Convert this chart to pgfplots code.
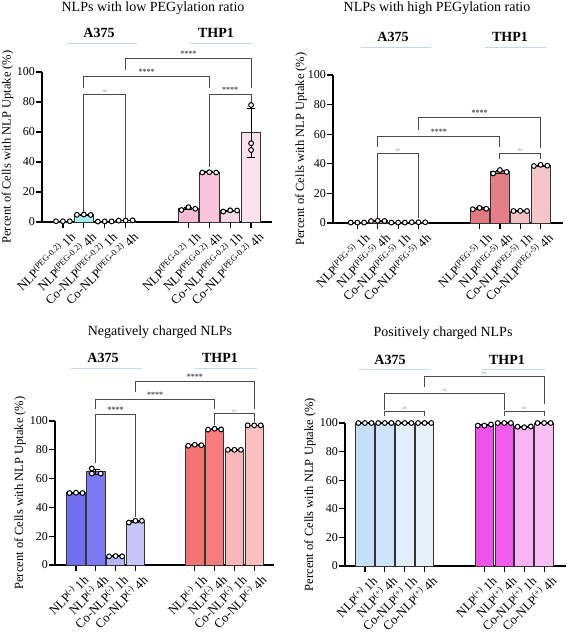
\documentclass[border=0pt]{standalone}
\usepackage{pgfplots}
\pgfplotsset{compat=1.18}
\usepackage{fontspec}
\setmainfont{Liberation Serif}
\newcommand\sps[1]{\textsuperscript{\fontsize{8.6}{9}\selectfont #1}}
\definecolor{brkc}{HTML}{4A4A4A}
\definecolor{uline}{HTML}{C6D6F0}
% panel 1
\definecolor{aA}{HTML}{CFF7F6}\definecolor{aB}{HTML}{A6F0EC}\definecolor{aC}{HTML}{DDF9F8}\definecolor{aD}{HTML}{E6FBFA}
\definecolor{aE}{HTML}{F8BCD6}\definecolor{aF}{HTML}{FAC4DC}\definecolor{aG}{HTML}{FCD5E6}\definecolor{aH}{HTML}{FDE1EE}
% panel 2
\definecolor{bA}{HTML}{E07F88}\definecolor{bB}{HTML}{E3848D}\definecolor{bC}{HTML}{F4C0C4}\definecolor{bD}{HTML}{F5C6C8}
\definecolor{bE}{HTML}{E27882}\definecolor{bF}{HTML}{E57E88}\definecolor{bG}{HTML}{F4C0C4}\definecolor{bH}{HTML}{F5C6C8}
% panel 3
\definecolor{cA}{HTML}{6F6FF0}\definecolor{cB}{HTML}{7A7AF2}\definecolor{cC}{HTML}{B7B7F8}\definecolor{cD}{HTML}{C5C5F9}
\definecolor{cE}{HTML}{F47474}\definecolor{cF}{HTML}{F97C7C}\definecolor{cG}{HTML}{FBB7B7}\definecolor{cH}{HTML}{FCBFBF}
% panel 4
\definecolor{dA}{HTML}{C5DFFA}\definecolor{dB}{HTML}{CCE3FA}\definecolor{dC}{HTML}{E2EEFB}\definecolor{dD}{HTML}{E7F1FC}
\definecolor{dE}{HTML}{EF52EB}\definecolor{dF}{HTML}{F25BEE}\definecolor{dG}{HTML}{F9B4F4}\definecolor{dH}{HTML}{FBBFF7}

\tikzset{
  brk/.style={draw=brkc, line width=0.9pt},
  st/.style={font=\fontsize{8}{8}\selectfont\bfseries, text=brkc, anchor=south, inner sep=1.5pt},
  ns/.style={font=\fontsize{5}{5}\selectfont, text=black!45, anchor=south, inner sep=1.5pt},
}
\pgfplotsset{
  gp/.style={
    scale only axis, ymin=0, ymax=100,
    axis x line*=bottom, axis y line*=left,
    axis line style={line width=1.3pt, -},
    every tick/.style={black, line width=1.2pt},
    major tick length=6pt, tick align=outside,
    ytick={0,20,40,60,80,100},
    xtick={1,2,3,4,7,8,9,10},
    clip=false,
    /pgf/number format/assume math mode=true,
    yticklabel style={font=\fontsize{12}{12}\selectfont, inner sep=1pt},
    xticklabel style={font=\fontsize{12.8}{14}\selectfont, inner sep=1pt, xshift=6pt, yshift=-1pt, rotate=45, anchor=north east},
    ylabel={Percent of Cells with NLP Uptake (\%)},
    bar width=0.93,
  },
  bars/.style={ybar, bar shift=0pt, draw=black!80, line width=0.9pt, fill=#1,
     error bars/.cd, y dir=both, y explicit,
     error bar style={black, line width=0.9pt},
     error mark options={rotate=90, black, line width=0.9pt, mark size=4pt}},
  pts/.style={only marks, mark=*, mark size=2.4pt, mark options={fill=white, draw=black, line width=1pt}},
}

\begin{document}
\begin{tikzpicture}
\useasboundingbox (0,0) rectangle (567pt,-634pt);

%================ Panel 1 =================
\begin{axis}[gp, at={(42pt,-222pt)}, anchor=south west, width=230pt, height=150pt,
  xmin=0, xmax=11,
  ylabel style={at={(axis description cs:-0.15,0.5)}, anchor=center, font=\fontsize{12.5}{13}\selectfont},
  xticklabels={NLP\sps{(PEG-0.2)} 1h, NLP\sps{(PEG-0.2)} 4h, Co-NLP\sps{(PEG-0.2)} 1h, Co-NLP\sps{(PEG-0.2)} 4h,
               NLP\sps{(PEG-0.2)} 1h, NLP\sps{(PEG-0.2)} 4h, Co-NLP\sps{(PEG-0.2)} 1h, Co-NLP\sps{(PEG-0.2)} 4h}]
\addplot[bars=aA] coordinates {(1,0.5) +- (0,0.1)};
\addplot[bars=aB] coordinates {(2,4.8) +- (0,0.3)};
\addplot[bars=aC] coordinates {(3,0.4) +- (0,0.1)};
\addplot[bars=aD] coordinates {(4,1.0) +- (0,0.1)};
\addplot[bars=aE] coordinates {(7,9.0) +- (0,0.9)};
\addplot[bars=aF] coordinates {(8,33.1) +- (0,0.3)};
\addplot[bars=aG] coordinates {(9,7.5) +- (0,0.5)};
\addplot[bars=aH] coordinates {(10,59.5) +- (0,16.5)};
\addplot[pts] coordinates {
 (0.67,0.5)(1,0.5)(1.33,0.5)
 (1.67,4.8)(2,5.0)(2.33,4.7)
 (2.67,0.3)(3,0.4)(3.33,0.4)
 (3.67,0.9)(4,1.0)(4.33,1.1)
 (6.67,8.0)(7,9.9)(7.33,8.8)
 (7.67,33.0)(8,33.2)(8.33,33.0)
 (8.67,7.0)(9,7.8)(9.33,7.7)
 (10,78)(10,52.5)(10,48)};
\draw[brk] (axis cs:4,101.3) |- (axis cs:10,109.3) -- (axis cs:10,89.3);
\node[st] at (axis cs:7,109.3) {****};
\draw[brk] (axis cs:2,89.3) |- (axis cs:8,97.3) -- (axis cs:8,89.3);
\node[st] at (axis cs:5,97.3) {****};
\draw[brk] (axis cs:2,6.7) |- (axis cs:4,85.3) -- (axis cs:4,3);
\node[ns] at (axis cs:3,85.3) {ns};
\draw[brk] (axis cs:8,36.7) |- (axis cs:10,85.3) -- (axis cs:10,79);
\node[st] at (axis cs:9,85.3) {****};
\end{axis}

%================ Panel 2 =================
\begin{axis}[gp, at={(333pt,-223pt)}, anchor=south west, width=230pt, height=148pt,
  xmin=-0.2, xmax=11.1,
  ylabel style={at={(axis description cs:-0.139,0.5)}, anchor=center, font=\fontsize{12.5}{13}\selectfont},
  xticklabels={NLP\sps{(PEG-5)} 1h, NLP\sps{(PEG-5)} 4h, Co-NLP\sps{(PEG-5)} 1h, Co-NLP\sps{(PEG-5)} 4h,
               NLP\sps{(PEG-5)} 1h, NLP\sps{(PEG-5)} 4h, Co-NLP\sps{(PEG-5)} 1h, Co-NLP\sps{(PEG-5)} 4h}]
\addplot[bars=bA] coordinates {(1,0.3) +- (0,0.05)};
\addplot[bars=bB] coordinates {(2,1.4) +- (0,0.1)};
\addplot[bars=bC] coordinates {(3,0.3) +- (0,0.05)};
\addplot[bars=bD] coordinates {(4,0.5) +- (0,0.05)};
\addplot[bars=bE] coordinates {(7,9.7) +- (0,0.5)};
\addplot[bars=bF] coordinates {(8,34.6) +- (0,1.1)};
\addplot[bars=bG] coordinates {(9,8.1) +- (0,0.2)};
\addplot[bars=bH] coordinates {(10,38.8) +- (0,0.4)};
\addplot[pts] coordinates {
 (0.67,0.3)(1,0.3)(1.33,0.3)
 (1.67,1.3)(2,1.5)(2.33,1.4)
 (2.67,0.3)(3,0.3)(3.33,0.3)
 (3.67,0.5)(4,0.5)(4.33,0.5)
 (6.67,9.3)(7,10.2)(7.33,9.6)
 (7.67,33.5)(8,35.8)(8.33,34.5)
 (8.67,8.1)(9,8.2)(9.33,8.1)
 (9.67,38.5)(10,39.3)(10.33,38.7)};
\draw[brk] (axis cs:4,62.8) |- (axis cs:10,71.2) -- (axis cs:10,51);
\node[st] at (axis cs:7,71.2) {****};
\draw[brk] (axis cs:2,51.6) |- (axis cs:8,58.8) -- (axis cs:8,51.6);
\node[st] at (axis cs:5,58.8) {****};
\draw[brk] (axis cs:2,3.4) |- (axis cs:4,47.3) -- (axis cs:4,3.4);
\node[ns] at (axis cs:3,47.3) {ns};
\draw[brk] (axis cs:8,43) |- (axis cs:10,47.3) -- (axis cs:10,43);
\node[ns] at (axis cs:9,47.3) {ns};
\end{axis}

%================ Panel 3 =================
\begin{axis}[gp, at={(55pt,-565pt)}, anchor=south west, width=219pt, height=144pt,
  xmin=-0.06, xmax=11.0,
  ylabel style={at={(axis description cs:-0.16,0.5)}, anchor=center, font=\fontsize{12.5}{13}\selectfont},
  xticklabels={NLP\sps{(-)} 1h, NLP\sps{(-)} 4h, Co-NLP\sps{(-)} 1h, Co-NLP\sps{(-)} 4h,
               NLP\sps{(-)} 1h, NLP\sps{(-)} 4h, Co-NLP\sps{(-)} 1h, Co-NLP\sps{(-)} 4h}]
\addplot[bars=cA] coordinates {(1,50.1) +- (0,0.2)};
\addplot[bars=cB] coordinates {(2,64.7) +- (0,2.0)};
\addplot[bars=cC] coordinates {(3,6.1) +- (0,0.2)};
\addplot[bars=cD] coordinates {(4,30.3) +- (0,0.6)};
\addplot[bars=cE] coordinates {(7,83.2) +- (0,0.3)};
\addplot[bars=cF] coordinates {(8,94.3) +- (0,0.3)};
\addplot[bars=cG] coordinates {(9,80.0) +- (0,0.1)};
\addplot[bars=cH] coordinates {(10,97.0) +- (0,0.1)};
\addplot[pts] coordinates {
 (0.67,50.0)(1,50.2)(1.33,50.0)
 (1.8,67.0)(1.8,63.5)(2.25,63.5)
 (2.67,6.0)(3,6.2)(3.33,6.0)
 (3.67,29.5)(4,30.7)(4.33,30.7)
 (6.67,82.8)(7,83.5)(7.33,83.2)
 (7.67,94.0)(8,94.6)(8.33,94.2)
 (8.67,80.0)(9,80.0)(9.33,80.0)
 (9.67,97.0)(10,97.0)(10.33,97.0)};
\draw[brk] (axis cs:4,120) |- (axis cs:10,127.8) -- (axis cs:10,108);
\node[st] at (axis cs:7,127.8) {****};
\draw[brk] (axis cs:2,108) |- (axis cs:8,115.3) -- (axis cs:8,108);
\node[st] at (axis cs:5,115.3) {****};
\draw[brk] (axis cs:2,70.5) |- (axis cs:4,104.5) -- (axis cs:4,33.5);
\node[st] at (axis cs:3,104.5) {****};
\draw[brk] (axis cs:8,97) |- (axis cs:10,105) -- (axis cs:10,99);
\node[ns] at (axis cs:9,105) {ns};
\end{axis}

%================ Panel 4 =================
\begin{axis}[gp, at={(345pt,-566pt)}, anchor=south west, width=221pt, height=143pt,
  xmin=0, xmax=11.1,
  ylabel style={at={(axis description cs:-0.158,0.5)}, anchor=center, font=\fontsize{12.5}{13}\selectfont},
  xticklabels={NLP\sps{(+)} 1h, NLP\sps{(+)} 4h, Co-NLP\sps{(+)} 1h, Co-NLP\sps{(+)} 4h,
               NLP\sps{(+)} 1h, NLP\sps{(+)} 4h, Co-NLP\sps{(+)} 1h, Co-NLP\sps{(+)} 4h}]
\addplot[bars=dA] coordinates {(1,100) +- (0,0.05)};
\addplot[bars=dB] coordinates {(2,100) +- (0,0.05)};
\addplot[bars=dC] coordinates {(3,100) +- (0,0.05)};
\addplot[bars=dD] coordinates {(4,100) +- (0,0.05)};
\addplot[bars=dE] coordinates {(7,98.4) +- (0,0.4)};
\addplot[bars=dF] coordinates {(8,100) +- (0,0.05)};
\addplot[bars=dG] coordinates {(9,97.3) +- (0,0.3)};
\addplot[bars=dH] coordinates {(10,100) +- (0,0.05)};
\addplot[pts] coordinates {
 (0.67,100)(1,100)(1.33,100)
 (1.67,100)(2,100)(2.33,100)
 (2.67,100)(3,100)(3.33,100)
 (3.67,100)(4,100)(4.33,100)
 (6.67,98.2)(7,98.2)(7.33,99.0)
 (7.67,100)(8,100)(8.33,100)
 (8.67,97.4)(9,97.0)(9.33,97.6)
 (9.67,100)(10,100)(10.33,100)};
\draw[brk] (axis cs:4,125) |- (axis cs:10,132.6) -- (axis cs:10,113);
\node[ns] at (axis cs:7,132.6) {ns};
\draw[brk] (axis cs:2,109) |- (axis cs:8,120.8) -- (axis cs:8,109);
\node[ns] at (axis cs:5,120.8) {ns};
\draw[brk] (axis cs:2,105) |- (axis cs:4,108.3) -- (axis cs:4,105);
\node[ns] at (axis cs:3,108.3) {ns};
\draw[brk] (axis cs:8,105) |- (axis cs:10,108.3) -- (axis cs:10,105);
\node[ns] at (axis cs:9,108.3) {ns};
\end{axis}

%================ Titles and group labels =================
\begin{scope}[every node/.style={inner sep=0pt}]
\node[font=\fontsize{14}{14}\selectfont] at (153pt,-8pt) {NLPs with low PEGylation ratio};
\node[font=\fontsize{14}{14}\selectfont\bfseries] at (99pt,-33pt) {A375};
\node[font=\fontsize{14}{14}\selectfont\bfseries] at (216pt,-33pt) {THP1};
\draw[uline, line width=0.6pt] (67pt,-43pt) -- (137pt,-43pt) (190pt,-43pt) -- (252pt,-43pt);

\node[font=\fontsize{14}{14}\selectfont] at (437pt,-8pt) {NLPs with high PEGylation ratio};
\node[font=\fontsize{14}{14}\selectfont\bfseries] at (393pt,-37pt) {A375};
\node[font=\fontsize{14}{14}\selectfont\bfseries] at (510pt,-37pt) {THP1};
\draw[uline, line width=0.6pt] (361pt,-47pt) -- (431pt,-47pt) (485pt,-47pt) -- (546pt,-47pt);

\node[font=\fontsize{14}{14}\selectfont] at (160pt,-332pt) {Negatively charged NLPs};
\node[font=\fontsize{14}{14}\selectfont\bfseries] at (103pt,-358pt) {A375};
\node[font=\fontsize{14}{14}\selectfont\bfseries] at (220pt,-358pt) {THP1};
\draw[uline, line width=0.6pt] (71pt,-368pt) -- (142pt,-368pt) (195pt,-368pt) -- (257pt,-368pt);

\node[font=\fontsize{14}{14}\selectfont] at (443pt,-333pt) {Positively charged NLPs};
\node[font=\fontsize{14}{14}\selectfont\bfseries] at (390pt,-360pt) {A375};
\node[font=\fontsize{14}{14}\selectfont\bfseries] at (507pt,-360pt) {THP1};
\draw[uline, line width=0.6pt] (359pt,-369pt) -- (430pt,-369pt) (482pt,-369pt) -- (545pt,-369pt);
\end{scope}
\end{tikzpicture}
\end{document}
